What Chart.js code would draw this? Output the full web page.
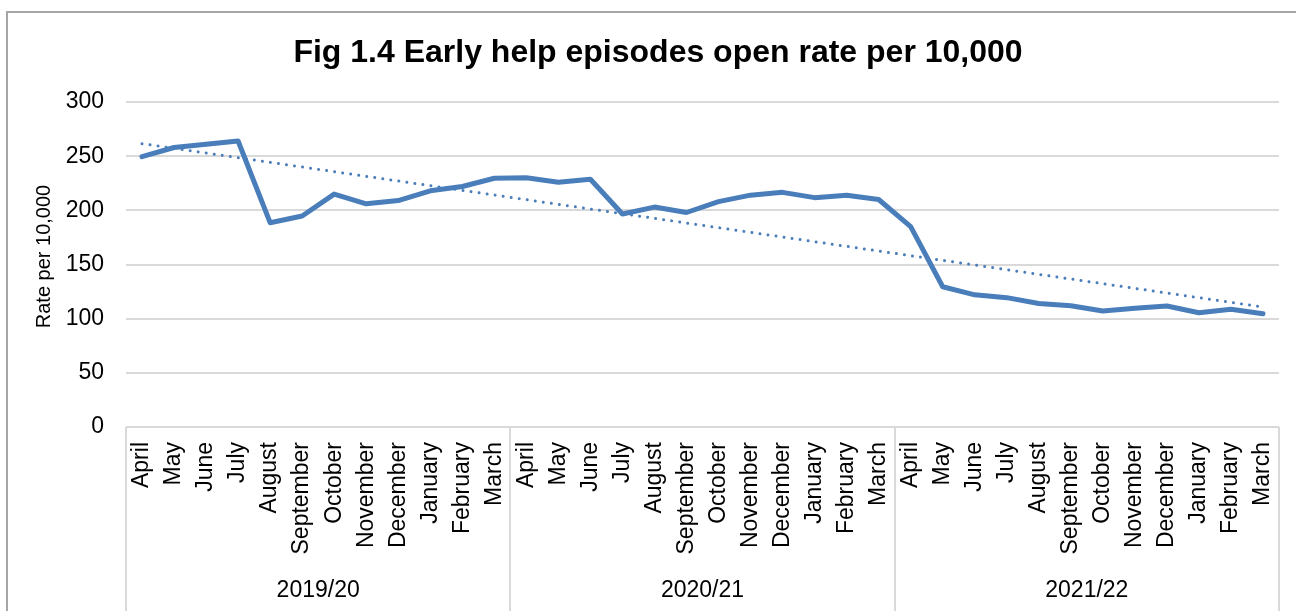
<!DOCTYPE html>
<html>
<head>
<meta charset="utf-8">
<title>Fig 1.4 Early help episodes open rate per 10,000</title>
<script src="https://cdn.jsdelivr.net/npm/chart.js@4/dist/chart.umd.min.js"></script>
<style>
  html, body { margin: 0; padding: 0; background: #ffffff; overflow: hidden; }
  #wrap { position: relative; width: 1296px; height: 611px; }
  canvas { display: block; }
</style>
</head>
<body>
<div id="wrap"><canvas id="chart" width="1296" height="611"></canvas></div>
<script>
// Financial years and the months inside each one
const years = ['2019/20', '2020/21', '2021/22'];
const months = ['April', 'May', 'June', 'July', 'August', 'September', 'October',
                'November', 'December', 'January', 'February', 'March'];

// Early help episodes open, rate per 10,000 (April to March of each year)
const rate2019 = [249.5, 258, 261, 264, 188.6, 194.8, 215, 206, 209, 218, 222, 229.6];
const rate2020 = [230, 226, 228.7, 196.6, 203, 198, 208, 214, 216.6, 211.7, 214, 210];
const rate2021 = [185, 129.5, 122, 119.4, 114, 112, 107, 109.6, 111.7, 105.5, 108.6, 104.6];

const yTicks = [0, 50, 100, 150, 200, 250, 300];

const chartTitle = 'Fig 1.4 Early help episodes open rate per 10,000';
const yTitle = 'Rate per 10,000';

// Build the flat category list and the series
const labels = [];
years.forEach(() => months.forEach(m => labels.push(m)));
const rates = [].concat(rate2019, rate2020, rate2021);

// Linear (least squares) trendline of the series
function linearTrend(values) {
  const n = values.length;
  let sx = 0, sy = 0, sxx = 0, sxy = 0;
  values.forEach((v, i) => { sx += i; sy += v; sxx += i * i; sxy += i * v; });
  const slope = (n * sxy - sx * sy) / (n * sxx - sx * sx);
  const icpt = (sy - slope * sx) / n;
  return values.map((_, i) => icpt + slope * i);
}
const trend = linearTrend(rates);

const BLUE = '#4a7ebb';
const GRID = '#d9d9d9';
const FONT = "'Liberation Sans', Arial, sans-serif";

// Frame, title, axis title, year row and separators
const decorations = {
  id: 'decorations',
  beforeDraw(chart) {
    const ctx = chart.ctx;
    ctx.save();
    ctx.fillStyle = '#ffffff';
    ctx.fillRect(0, 0, chart.width, chart.height);
    // chart frame: only its left and top edges fall inside the canvas
    ctx.strokeStyle = '#a6a6a6';
    ctx.lineWidth = 2;
    ctx.beginPath();
    ctx.moveTo(7, chart.height + 5);
    ctx.lineTo(7, 12);
    ctx.lineTo(chart.width + 5, 12);
    ctx.stroke();
    ctx.restore();
  },
  afterDraw(chart) {
    const ctx = chart.ctx;
    const area = chart.chartArea;
    const x = chart.scales.x;
    const perYear = months.length;
    ctx.save();

    // Chart title
    ctx.fillStyle = '#000000';
    ctx.font = 'bold 32px ' + FONT;
    ctx.textAlign = 'center';
    ctx.textBaseline = 'alphabetic';
    ctx.fillText(chartTitle, 658, 62);

    // Y axis title
    ctx.save();
    ctx.translate(44, (area.top + area.bottom) / 2 - 8);
    ctx.rotate(-Math.PI / 2);
    ctx.font = '20px ' + FONT;
    ctx.textBaseline = 'middle';
    ctx.fillText(yTitle, 0, 0);
    ctx.restore();

    // Category axis line
    ctx.strokeStyle = GRID;
    ctx.lineWidth = 2;
    ctx.beginPath();
    ctx.moveTo(area.left, area.bottom);
    ctx.lineTo(area.right, area.bottom);
    ctx.stroke();

    // Year separators and year labels
    const half = (x.getPixelForValue(1) - x.getPixelForValue(0)) / 2;
    const bounds = [];
    for (let k = 0; k <= years.length; k++) {
      const idx = Math.min(k * perYear, labels.length - 1);
      const px = k * perYear >= labels.length ? x.getPixelForValue(idx) + half
                                             : x.getPixelForValue(idx) - half;
      bounds.push(px);
      ctx.beginPath();
      ctx.moveTo(Math.round(px), area.bottom);
      ctx.lineTo(Math.round(px), chart.height + 5);
      ctx.stroke();
    }
    ctx.font = '23px ' + FONT;
    ctx.textAlign = 'center';
    ctx.textBaseline = 'middle';
    ctx.fillStyle = '#000000';
    years.forEach((y, k) => {
      ctx.fillText(y, (bounds[k] + bounds[k + 1]) / 2, 591);
    });
    ctx.restore();
  }
};

new Chart(document.getElementById('chart'), {
  type: 'line',
  data: {
    labels: labels,
    datasets: [
      {
        label: 'Rate per 10,000',
        data: rates,
        borderColor: BLUE,
        backgroundColor: BLUE,
        borderWidth: 5,
        pointRadius: 0,
        tension: 0,
        borderJoinStyle: 'round',
        borderCapStyle: 'round',
        order: 1
      },
      {
        label: 'Linear (Rate per 10,000)',
        data: trend,
        borderColor: BLUE,
        borderWidth: 3,
        borderDash: [0.01, 8.1],
        borderCapStyle: 'round',
        pointRadius: 0,
        tension: 0,
        order: 0
      }
    ]
  },
  options: {
    responsive: false,
    animation: false,
    events: [],
    layout: { padding: { top: 102, right: 17, bottom: 0, left: 0 } },
    plugins: {
      legend: { display: false },
      title: { display: false },
      tooltip: { enabled: false }
    },
    scales: {
      x: {
        type: 'category',
        offset: true,
        grid: { display: false, drawTicks: false },
        border: { display: false },
        ticks: {
          autoSkip: false,
          maxRotation: 90,
          minRotation: 90,
          padding: 15,
          color: '#000000',
          font: { family: FONT, size: 23 }
        },
        afterFit(scale) {
          scale.height = 184;
          scale.paddingLeft = 0;
          scale.paddingRight = 0;
        }
      },
      y: {
        min: 0,
        max: 300,
        afterBuildTicks(scale) { scale.ticks = yTicks.map(v => ({ value: v })); },
        grid: { color: GRID, lineWidth: 2, drawTicks: false },
        border: { display: false },
        ticks: {
          padding: 22,
          color: '#000000',
          font: { family: FONT, size: 23 }
        },
        afterFit(scale) {
          scale.width = 126;
          scale.paddingTop = 0;
          scale.paddingBottom = 0;
        }
      }
    }
  },
  plugins: [decorations]
});
</script>
</body>
</html>
